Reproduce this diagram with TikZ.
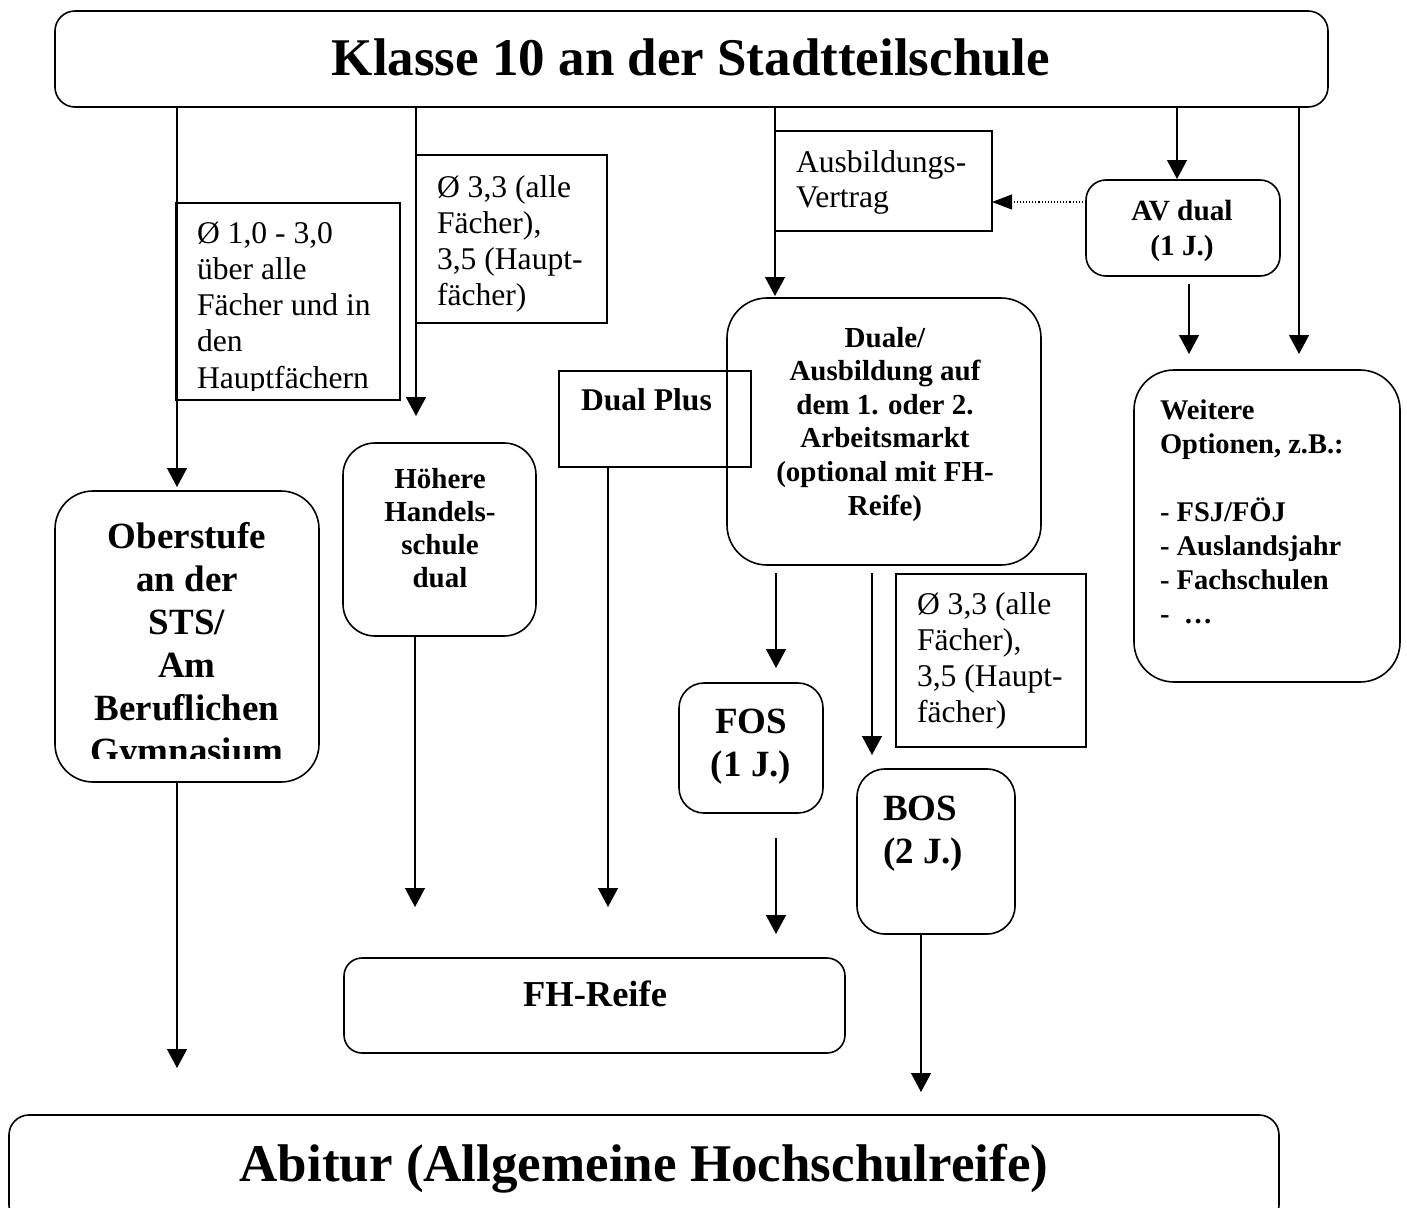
\documentclass[tikz,border=0pt]{standalone}
\usepackage{fontspec}
\setmainfont{Liberation Serif}
\usetikzlibrary{arrows.meta}
\newcommand\mylines[2]{\begin{tabular}[t]{@{}#1@{}}#2\end{tabular}}
\begin{document}
\begin{tikzpicture}[x=1pt,y=-1pt,
  box/.style={draw, line width=1.6pt, inner sep=0pt, outer sep=0pt, anchor=north west},
  rbox/.style={box, rounded corners=#1},
  conn/.style={line width=1.3pt, -{Triangle[width=20pt,length=19pt]}},
  dotconn/.style={line width=1.1pt, dotted, -{Triangle[width=15pt,length=20pt]}},
  txt/.style={inner sep=0pt, outer sep=0pt},
  lbl/.style={txt, anchor=base west, font=\fontsize{31.6}{36.3}\selectfont}
]
\useasboundingbox (0,0) rectangle (1407,1207);

% ---- boxes ----
\node[rbox=20pt, minimum width=1273pt, minimum height=96pt] (top) at (55,11) {};
\node[rbox=20pt, minimum width=1270pt, minimum height=110pt] (abi) at (9,1115) {};
\node[box, minimum width=224pt, minimum height=197pt] (lab1) at (176,203) {};
\node[box, minimum width=191pt, minimum height=168pt] (lab2) at (416,155) {};
\node[box, minimum width=190pt, minimum height=173pt] (lab3) at (896,574) {};
\node[box, minimum width=217pt, minimum height=100pt] (ausv) at (775,131) {};
\node[box, minimum width=192pt, minimum height=96pt] (dplus) at (559,371) {};
\node[rbox=40pt, minimum width=314pt, minimum height=267pt] (duale) at (727,298) {};
\node[rbox=32pt, minimum width=193pt, minimum height=193pt] (hoeh) at (343,443) {};
\node[rbox=38pt, minimum width=264pt, minimum height=291pt] (ober) at (55,491) {};
\node[rbox=20pt, minimum width=194pt, minimum height=96pt] (avd) at (1086,180) {};
\node[rbox=40pt, minimum width=266pt, minimum height=312pt] (weit) at (1134,370) {};
\node[rbox=25pt, minimum width=144pt, minimum height=130pt] (fos) at (679,683) {};
\node[rbox=28pt, minimum width=158pt, minimum height=165pt] (bos) at (857,769) {};
\node[rbox=18pt, minimum width=501pt, minimum height=95pt] (fhr) at (344,958) {};

% ---- texts ----
\node[txt, anchor=base, font=\fontsize{53}{60}\bfseries\selectfont] (toptxt) at (691,75) {Klasse 10 an der Stadtteilschule};
\node[txt, anchor=base, font=\fontsize{53}{60}\bfseries\selectfont] (abitxt) at (644,1181) {Abitur (Allgemeine Hochschulreife)};
\begin{scope}
  \clip (176,203) rectangle (400,390);
  \node[lbl] (lab1txt) at (197,243) {\mylines{l}{Ø 1,0 - 3,0\\über alle\\Fächer und in\\den\\Hauptfächern}};
\end{scope}
\node[lbl] (lab2txt) at (437,197) {\mylines{l}{Ø 3,3 (alle\\Fächer),\\3,5 (Haupt-\\fächer)}};
\node[lbl] (lab3txt) at (917,614) {\mylines{l}{Ø 3,3 (alle\\Fächer),\\3,5 (Haupt-\\fächer)}};
\node[txt, anchor=base west, font=\fontsize{31.6}{35.5}\selectfont] (ausvtxt) at (796,172) {\mylines{l}{Ausbildungs-\\Vertrag}};
\node[txt, anchor=base west, font=\fontsize{31.6}{36}\bfseries\selectfont] (dplustxt) at (581,410) {Dual Plus};
\node[txt, anchor=base, font=\fontsize{29}{33.6}\bfseries\selectfont] (dualetxt) at (885,347) {\mylines{c}{Duale/\\Ausbildung auf\\dem 1. oder 2.\\Arbeitsmarkt\\(optional mit FH-\\Reife)}};
\node[txt, anchor=base, font=\fontsize{29}{33.3}\bfseries\selectfont] (hoehtxt) at (440,488) {\mylines{c}{Höhere\\Handels-\\schule\\dual}};
\begin{scope}
  \clip (55,491) rectangle (319,758);
  \node[txt, anchor=base, font=\fontsize{37}{43}\bfseries\selectfont] (obertxt) at (187,548) {\mylines{c}{Oberstufe\\an der\\STS/\\Am\\Beruflichen\\Gymnasium}};
\end{scope}
\node[txt, anchor=base, font=\fontsize{29.3}{35}\bfseries\selectfont] (avdtxt) at (1182,220) {\mylines{c}{AV dual\\(1 J.)}};
\node[txt, anchor=base west, font=\fontsize{28.5}{34}\bfseries\selectfont] (weittxt) at (1160,419) {\mylines{l}{Weitere\\Optionen, z.B.:\\ \\- FSJ/FÖJ\\- Auslandsjahr\\- Fachschulen\\-\ \ …}};
\node[txt, anchor=base, font=\fontsize{37}{43}\bfseries\selectfont] (fostxt) at (751,733) {\mylines{c}{FOS\\(1 J.)}};
\node[txt, anchor=base west, font=\fontsize{37}{43}\bfseries\selectfont] (bostxt) at (883,820) {\mylines{l}{BOS\\(2 J.)}};
\node[txt, anchor=base, font=\fontsize{36.5}{42}\bfseries\selectfont] (fhrtxt) at (595,1006) {FH-Reife};

% ---- connector end points ----
\coordinate (t1) at (177,487);
\coordinate (t2) at (416,416);
\coordinate (t3) at (775,296);
\coordinate (t4) at (1177,179);
\coordinate (t5) at (1299,354);
\coordinate (d1) at (1086,202);
\coordinate (s6) at (1189,284);
\coordinate (t6) at (1189,354);
\coordinate (t7) at (608,907);
\coordinate (t8) at (415,907);
\coordinate (t9) at (177,1068);
\coordinate (s10) at (776,573);
\coordinate (t10) at (776,668);
\coordinate (s11) at (872,573);
\coordinate (t11) at (872,755);
\coordinate (s12) at (776,838);
\coordinate (t12) at (776,934);
\coordinate (t13) at (921,1092);

% ---- connectors ----
\draw[conn] (top.south -| t1) -- (t1);
\draw[conn] (top.south -| t2) -- (t2);
\draw[conn] (top.south -| t3) -- (t3);
\draw[conn] (top.south -| t4) -- (t4);
\draw[conn] (top.south -| t5) -- (t5);
\draw[dotconn] (d1) -- (ausv.east |- d1);
\draw[conn] (s6) -- (t6);
\draw[conn] (dplus.south -| t7) -- (t7);
\draw[conn] (hoeh.south -| t8) -- (t8);
\draw[conn] (ober.south -| t9) -- (t9);
\draw[conn] (s10) -- (t10);
\draw[conn] (s11) -- (t11);
\draw[conn] (s12) -- (t12);
\draw[conn] (bos.south -| t13) -- (t13);
\end{tikzpicture}
\end{document}
